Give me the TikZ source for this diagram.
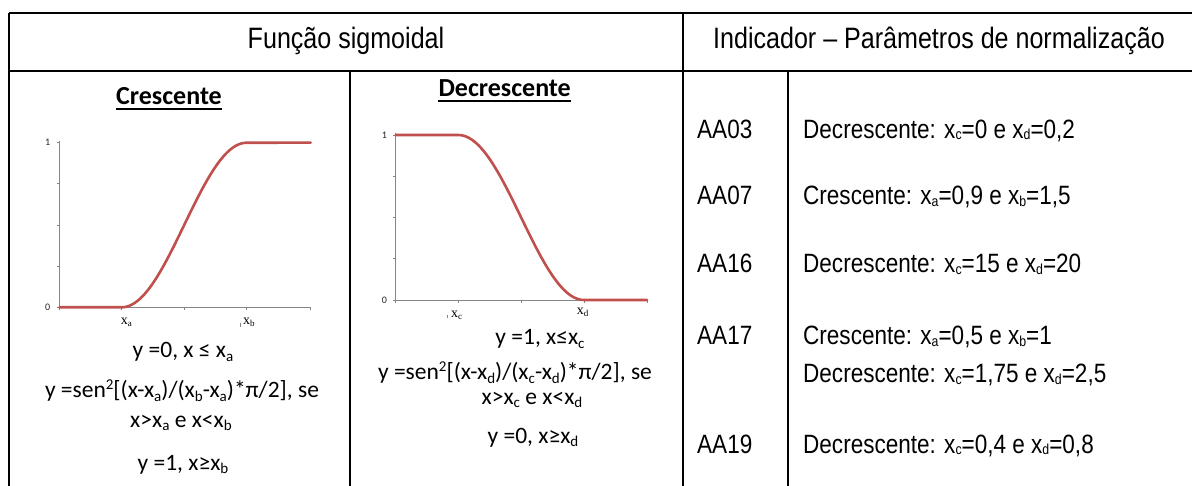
\documentclass[tikz,border=0pt]{standalone}
\usepackage{fontspec}
\setmainfont{Liberation Sans}
\newfontfamily\narrowfont{Liberation Sans}[FakeStretch=0.85]
\newfontfamily\calfont{Carlito}
\newfontfamily\serfont{Liberation Serif}
\definecolor{axgray}{HTML}{868686}
\definecolor{curvered}{HTML}{C0504D}
\newcommand{\nsub}[1]{\raisebox{-1.5pt}{\fontsize{14.5}{14.5}\selectfont #1}}
\newcommand{\csub}[1]{\raisebox{-3.5pt}{\fontsize{15}{15}\selectfont #1}}
\newcommand{\csup}[1]{\raisebox{8.5pt}{\fontsize{15}{15}\selectfont #1}}
\newcommand{\ssub}[1]{\raisebox{-2pt}{\fontsize{9}{9}\selectfont #1}}
\tikzset{
  gridline/.style={line width=2pt, black},
  axline/.style={draw=axgray, line width=0.8pt},
  curveline/.style={draw=curvered, line width=2.6pt, line join=round, line cap=round},
  hdr/.style={font=\narrowfont\fontsize{29.5}{34}\selectfont, inner sep=0pt, anchor=base},
  cell/.style={font=\narrowfont\fontsize{26.5}{30}\selectfont, inner sep=0pt, anchor=base west},
  form/.style={font=\calfont\fontsize{23.5}{27}\selectfont, inner sep=0pt, anchor=base},
  ttl/.style={font=\calfont\bfseries\fontsize{26}{30}\selectfont, inner sep=0pt, anchor=base},
  ticklab/.style={font=\calfont\fontsize{10}{12}\selectfont, inner sep=0pt, text=black!85},
  xlab/.style={font=\serfont\fontsize{14}{16}\selectfont, inner sep=0pt, anchor=base west},
}
\begin{document}
\begin{tikzpicture}[x=1pt, y=-1pt]
\useasboundingbox[fill=white] (0,0) rectangle (1192,486);
\begin{scope}
\clip (0,0) rectangle (1192,486);
% table grid
\draw[gridline] (9,13) -- (1194,13);
\draw[gridline] (9,13) -- (9,488);
\draw[gridline] (9,71) -- (1194,71);
\draw[gridline] (683,13) -- (683,488);
\draw[gridline] (350,71) -- (350,488);
\draw[gridline] (788,71) -- (788,488);
\end{scope}

% headers
\node[hdr] (h1) at (346,48.5) {Função sigmoidal};
\node[hdr, anchor=base west] (h2) at (713,48.5) {Indicador – Parâmetros de normalização};

% titles
\node[ttl] (cres) at (169,105) {Crescente};
\draw[line width=1.8pt] ([yshift=-4pt]cres.base west) -- ([yshift=-4pt]cres.base east);
\node[ttl] (decr) at (504.7,96.7) {Decrescente};
\draw[line width=1.8pt] ([yshift=-4.5pt]decr.base west) -- ([yshift=-4.5pt]decr.base east);

% ---- Crescente chart ----
\draw[axline] (59.3,141) -- (59.3,307.3) -- (310.7,307.3);
\foreach \yy in {142.7,183.3,225,266,307.3} \draw[axline] (56.5,\yy) -- (59.3,\yy);
\foreach \xx in {59.3,121.7,184.3,246.7,310.7} \draw[axline] (\xx,307.3) -- (\xx,310.3);
\node[ticklab] (c1) at (47.7,142.7) {1};
\node[ticklab] (c0) at (47.7,307.3) {0};
\draw[curveline] (59.3,307.3) -- (121.7,307.3)
  -- plot[domain=0:1, samples=50] ({121.7+125*\x},{307.3-164.6*(sin(90*\x))*(sin(90*\x))})
  -- (310.7,142.7);
\node[xlab] (xa) at (120.7,325) {x\ssub{a}};
\draw[axgray, line width=0.6pt] (240,323) -- (240,327);
\node[xlab] (xb) at (243,325) {x\ssub{b}};

% ---- Decrescente chart ----
\draw[axline] (395.7,133.5) -- (395.7,300) -- (647,300);
\foreach \yy in {135,176,217.3,258.3,300} \draw[axline] (392.9,\yy) -- (395.7,\yy);
\foreach \xx in {395.7,458.3,521.7,584,647} \draw[axline] (\xx,300) -- (\xx,303);
\node[ticklab] (d1) at (384.3,135) {1};
\node[ticklab] (d0) at (384.3,300) {0};
\draw[curveline] (395.7,135) -- (458.3,135)
  -- plot[domain=0:1, samples=50] ({458.3+125.7*\x},{135+165*(sin(90*\x))*(sin(90*\x))})
  -- (647,300);
\draw[axgray, line width=0.6pt] (447,315) -- (447,318);
\node[xlab] (xc) at (451,318) {x\ssub{c}};
\node[xlab] (xd) at (576.7,315) {x\ssub{d}};

% ---- formulas left ----
\node[form] (fa1) at (183,358) {y =0, x ≤ x\csub{a}};
\node[form] (fa2) at (182,398) {y =sen\csup{2}[(x-x\csub{a})/(x\csub{b}-x\csub{a})*π/2], se};
\node[form] (fa3) at (181,427) {x>x\csub{a} e x<x\csub{b}};
\node[form] (fa4) at (183,470) {y =1, x≥x\csub{b}};

% ---- formulas right ----
\node[form] (fb1) at (540,345) {y =1, x≤x\csub{c}};
\node[form] (fb2) at (515,380) {y =sen\csup{2}[(x-x\csub{d})/(x\csub{c}-x\csub{d})*π/2], se};
\node[form] (fb3) at (532,404) {x>x\csub{c} e x<x\csub{d}};
\node[form] (fb4) at (533,443) {y =0, x≥x\csub{d}};

% ---- indicator table ----
\node[cell] (r1) at (697,138.3) {AA03};
\node[cell] (p1) at (803,138.3) {Decrescente: x\nsub{c}=0 e x\nsub{d}=0,2};
\node[cell] (r2) at (697,205) {AA07};
\node[cell] (p2) at (803,205) {Crescente: x\nsub{a}=0,9 e x\nsub{b}=1,5};
\node[cell] (r3) at (697,273) {AA16};
\node[cell] (p3) at (803,273) {Decrescente: x\nsub{c}=15 e x\nsub{d}=20};
\node[cell] (r4) at (697,345) {AA17};
\node[cell] (p4) at (803,345) {Crescente: x\nsub{a}=0,5 e x\nsub{b}=1};
\node[cell] (p4b) at (803,383) {Decrescente: x\nsub{c}=1,75 e x\nsub{d}=2,5};
\node[cell] (r5) at (697,453) {AA19};
\node[cell] (p5) at (803,453) {Decrescente: x\nsub{c}=0,4 e x\nsub{d}=0,8};
\end{tikzpicture}
\end{document}
